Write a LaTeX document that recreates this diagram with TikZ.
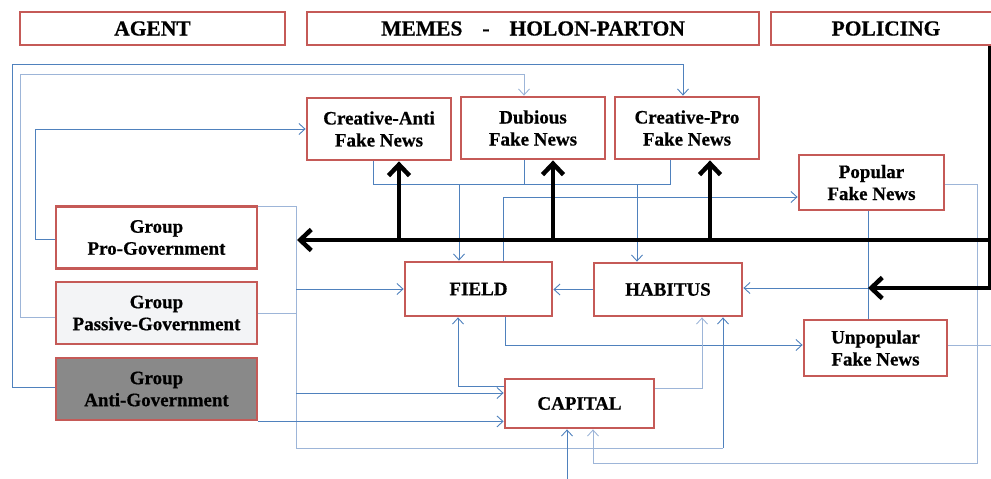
\documentclass[tikz,border=0pt]{standalone}
\usepackage{fontspec}
\setmainfont{Liberation Serif}[BoldFeatures={FakeBold=0.6}]
\usetikzlibrary{arrows.meta}
\definecolor{boxred}{HTML}{C55A57}
\definecolor{linkblue}{HTML}{4F81BD}
\definecolor{linklight}{HTML}{9DB5D8}
\definecolor{passfill}{HTML}{F3F4F6}
\definecolor{antifill}{HTML}{898989}

\begin{document}
\begin{tikzpicture}[x=1pt,y=-1pt,
  box/.style={draw=boxred,line width=2.8pt,fill=white,inner sep=0pt,align=center,
    font=\fontsize{19}{22}\selectfont\bfseries},
  headbox/.style={box,minimum height=33pt,font=\fontsize{21.5}{24}\selectfont\bfseries},
  memebox/.style={box,minimum width=144pt,minimum height=62pt},
  groupbox/.style={box,minimum width=201pt,minimum height=62pt},
  link/.style={draw=linkblue,line width=0.9pt},
  linkpale/.style={draw=linklight,line width=0.9pt},
  tip/.style={-{Straight Barb[length=6pt,width=11pt]}},
  heavy/.style={draw=black,line width=4.5pt,-{Straight Barb[length=11pt,width=21pt]}},
]
\useasboundingbox (0,0) rectangle (991,479);
\clip (0,0) rectangle (991,479);

% column headings
\node[headbox,minimum width=265pt] (hAgent) at (152.5,28.5) {AGENT};
\node[headbox,minimum width=452pt] (hMemes) at (533,28.5) {MEMES\hspace{20pt}-\hspace{20pt}HOLON-PARTON};
\node[headbox,minimum width=230pt] (hPolicing) at (886,28.5) {POLICING};

% fake news kinds
\node[memebox] (cAnti) at (379,129) {Creative-Anti\\Fake News};
\node[memebox] (dub) at (533,128) {Dubious\\Fake News};
\node[memebox] (cPro) at (687,128) {Creative-Pro\\Fake News};
\node[box,minimum width=145pt,minimum height=55pt] (pop) at (871.5,182.5) {Popular\\Fake News};
\node[box,minimum width=143pt,minimum height=56pt] (unpop) at (875.5,348) {Unpopular\\Fake News};

% field, habitus, capital
\node[box,minimum width=147pt,minimum height=54pt] (field) at (478.5,289) {FIELD};
\node[box,minimum width=148pt,minimum height=53pt] (habitus) at (668,289.5) {HABITUS};
\node[box,minimum width=149pt,minimum height=49pt] (capital) at (579.5,403.5) {CAPITAL};

% agent groups
\node[groupbox] (gPro) at (156.5,237.5) {Group\\Pro-Government};
\node[groupbox,fill=passfill] (gPas) at (156.5,313) {Group\\Passive-Government};
\node[groupbox,fill=antifill] (gAnti) at (156.5,389) {Group\\Anti-Government};

% routing coordinates
\coordinate (loopA) at (12,64);
\coordinate (loopB) at (20,74);
\coordinate (loopC) at (35,129);
\coordinate (busY) at (0,184);
\coordinate (rowPol) at (0,288);
\coordinate (mainR) at (991,240);
\coordinate (mainL) at (297,240);
\coordinate (polX) at (990,0);
\coordinate (busBot) at (296,448);
\coordinate (loopR) at (977,463);
\coordinate (unpopOut) at (991,345);
\coordinate (capBelow) at (567,479);

% taps on boxes
\coordinate (cProTap) at ([xshift=-17pt]cPro.south);
\coordinate (dubTap) at ([xshift=-9pt]dub.south);
\coordinate (fieldIn) at ([xshift=-19.5pt]field.north);
\coordinate (habIn) at ([xshift=-31pt]habitus.north);
\coordinate (popTap) at ([xshift=-3.5pt]pop.south);
\coordinate (hubR) at (popTap |- rowPol);
\coordinate (capIn) at ([yshift=10.5pt]capital.west);
\coordinate (habBot) at ([xshift=55pt]habitus.south);
\coordinate (upA) at ([xshift=20pt]cAnti.south);
\coordinate (upB) at ([xshift=20pt]dub.south);
\coordinate (upC) at ([xshift=23pt]cPro.south);

% outer loops from the groups to the memes
\draw[link,tip] ([yshift=2pt]gAnti.west) -| (loopA) -| ([xshift=-4pt]cPro.north);
\draw[linkpale,tip] ([yshift=-4pt]gPas.west) -| (loopB) -| ([xshift=-9pt]dub.north);
\draw[link,tip] ([yshift=-1.5pt]gPro.west) -| (loopC) -- (cAnti.west);

% memes bus down to field and habitus
\draw[link] ([xshift=-6pt]cAnti.south) |- (busY -| cProTap) -- (cProTap);
\draw[link] (dubTap) -- (dubTap |- busY);
\draw[link,tip] (fieldIn |- busY) -- (fieldIn);
\draw[link,tip] (habIn |- busY) -- (habIn);

% field, habitus, capital links
\draw[link,tip] ([xshift=24.5pt]field.north) |- ([yshift=-14.5pt]pop.west);
\draw[link,tip] (habitus.west) -- (habitus.west -| field.east);
\draw[link,tip] ([xshift=26.5pt]field.south) |- ([yshift=3pt]unpop.west);
\draw[link,tip] ([yshift=17.5pt]capital.west) -| ([xshift=-20.5pt]field.south);
\draw[linkpale,tip] ([yshift=15.5pt]capital.east) -| ([xshift=34pt]habitus.south);

% popular / unpopular
\draw[link] (popTap) -- (popTap |- unpop.north);
\draw[link,tip] (hubR) -- (hubR -| habitus.east);
\draw[linkpale,tip] ([yshift=-1.5pt]pop.east) -| (loopR) -| ([xshift=13.5pt]capital.south);
\draw[linkpale] ([yshift=3pt]unpop.east) -- (unpopOut);

% group bus
\draw[linkpale] ([yshift=-1pt]gPro.north east) -| (busBot) -- (busBot -| habBot);
\draw[link,tip] (busBot -| habBot) -- (habBot);
\draw[linkpale] (gPas.east) -- (gPas.east -| busBot);
\draw[link,tip] (busBot |- field.west) -- (field.west);
\draw[link,tip] (busBot |- capIn) -- (capIn);
\draw[link,tip] (gAnti.south east) -- (gAnti.south east -| capital.west);
\draw[link,tip] (capBelow) -- ([xshift=-12.5pt]capital.south);

% policing
\draw[heavy] (polX |- hPolicing.south) |- (hubR);
\draw[heavy] (mainR) -- (mainL);
\draw[heavy] (upA |- mainR) -- (upA);
\draw[heavy] (upB |- mainR) -- (upB);
\draw[heavy] (upC |- mainR) -- (upC);
\end{tikzpicture}
\end{document}
